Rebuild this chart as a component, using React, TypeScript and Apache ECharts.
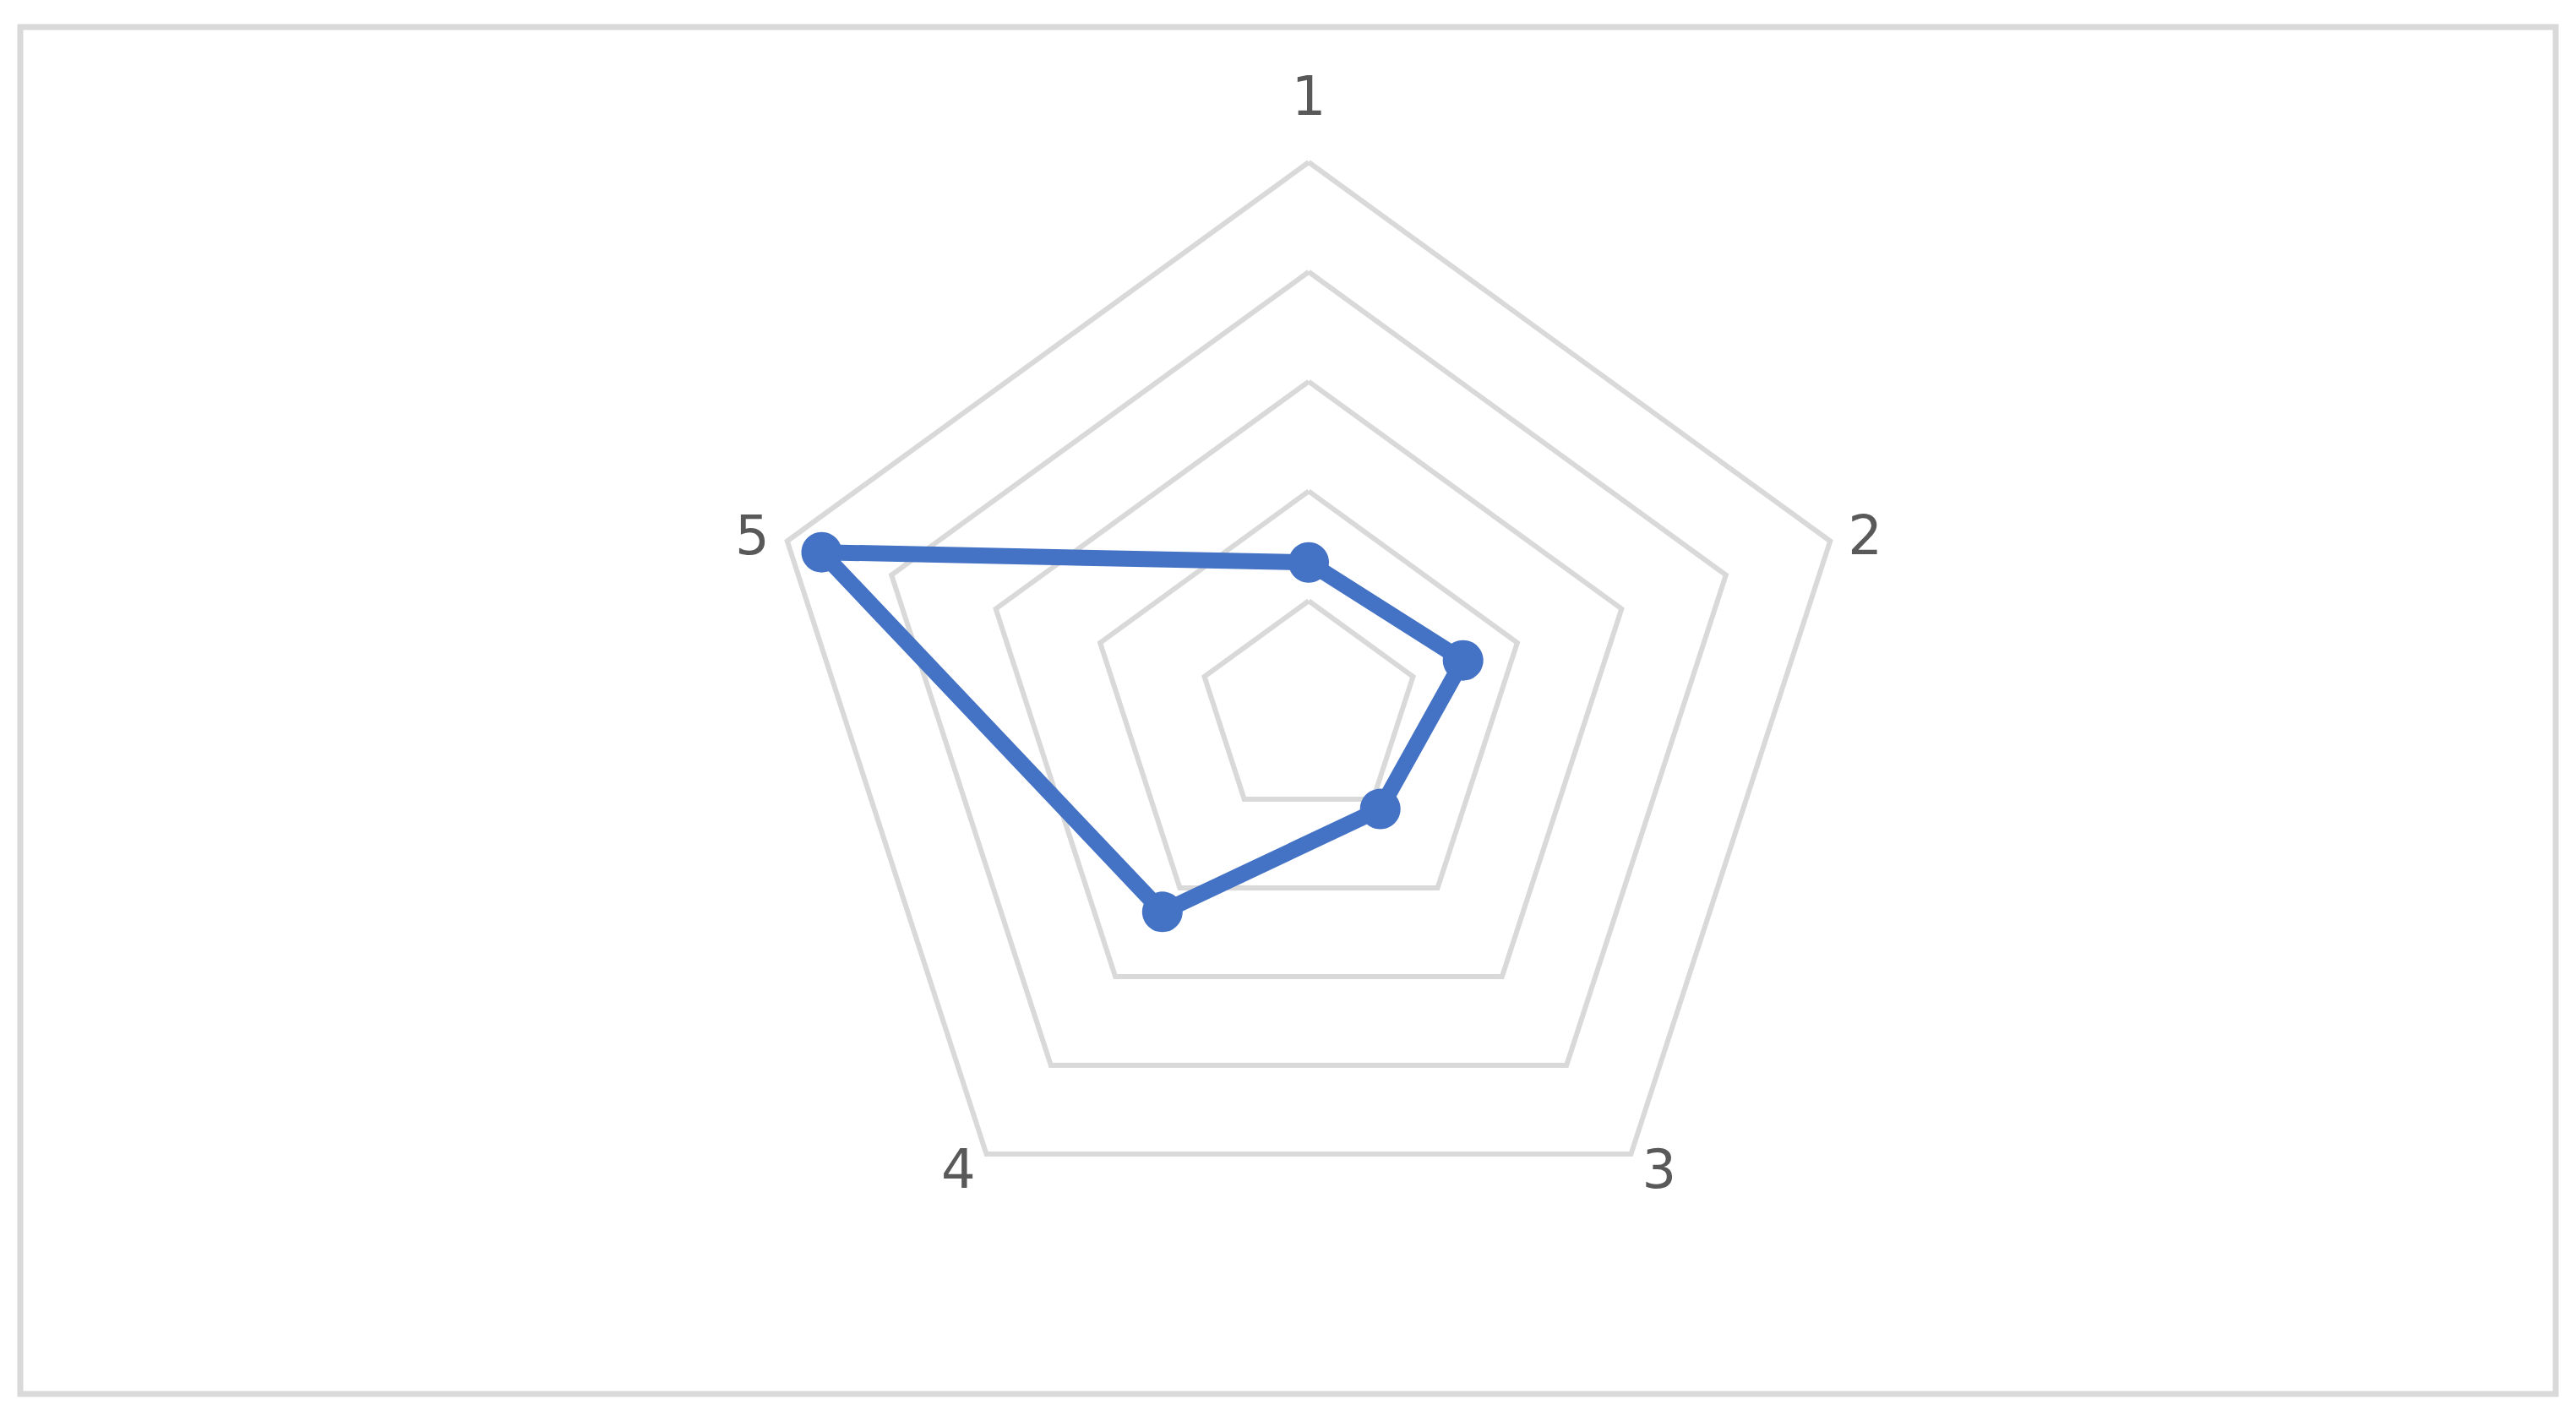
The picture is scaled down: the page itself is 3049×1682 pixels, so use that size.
import React, { useEffect, useRef } from "react";
import * as echarts from "echarts";

const categories = ["1", "2", "3", "4", "5"];
const seriesValues = [1.35, 1.48, 1.11, 2.27, 4.67];
const axisMax = 5;

// ECharts lays indicators out counter-clockwise; the reference runs clockwise.
const clockwiseOrder = [0, 4, 3, 2, 1];

export default function App() {
  const ref = useRef<HTMLDivElement>(null);
  useEffect(() => {
    if (!ref.current) return;
    const chart = echarts.init(ref.current, null, { renderer: "svg" });
    chart.setOption({
      animation: false,
      backgroundColor: "#ffffff",
      graphic: [
        {
          type: "rect",
          shape: { x: 24, y: 32, width: 3001, height: 1618 },
          style: { fill: "none", stroke: "#d9d9d9", lineWidth: 7 },
          silent: true,
        },
      ],
      radar: {
        center: [1549, 841],
        radius: 649,
        startAngle: 90,
        shape: "polygon",
        splitNumber: 5,
        indicator: clockwiseOrder.map((i) => ({ name: categories[i], min: 0, max: axisMax })),
        nameGap: 22,
        axisName: {
          color: "#595959",
          fontFamily: "DejaVu Sans",
          fontSize: 64,
          formatter: (name: string) => (name === categories[0] ? "{top|" + name + "}" : name),
          rich: {
            top: {
              color: "#595959",
              fontFamily: "DejaVu Sans",
              fontSize: 64,
              padding: [0, 0, 24, 0],
            },
          },
        },
        axisLine: { show: false },
        axisTick: { show: false },
        axisLabel: { show: false },
        splitArea: { show: false },
        splitLine: { lineStyle: { color: "#d9d9d9", width: 6 } },
      },
      series: [
        {
          type: "radar",
          symbol: "circle",
          symbolSize: 48,
          lineStyle: { color: "#4472C4", width: 19 },
          itemStyle: { color: "#4472C4" },
          data: [{ value: clockwiseOrder.map((i) => seriesValues[i]), name: "Series 1" }],
        },
      ],
    });
    return () => chart.dispose();
  }, []);
  return (
    <div
      ref={ref}
      style={{ position: "fixed", left: 0, top: 0, width: 3049, height: 1682 }}
    />
  );
}
